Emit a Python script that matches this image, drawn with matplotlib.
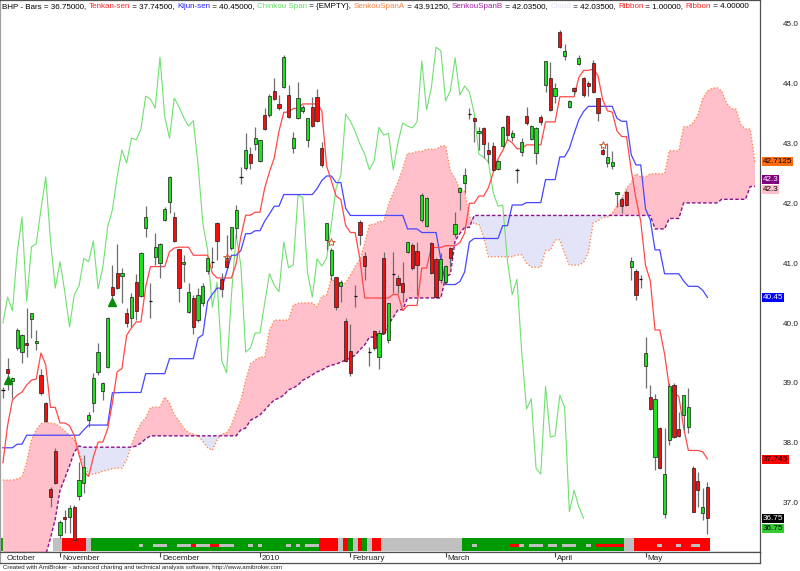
import numpy as np
import matplotlib
matplotlib.use("Agg")
import matplotlib.pyplot as plt
from matplotlib import transforms
from matplotlib.patches import Rectangle

plt.rcParams['font.family'] = ['Liberation Sans', 'DejaVu Sans']

### Data: BHP daily bars, bar 0 = mid Oct 2009 ... bar 148 = 20 May 2010
opens = [38.90, 39.25, 39.05, 39.60, 39.53, 39.68, 40.08, 39.68, 39.15, 38.68,
         37.24, 37.88, 36.47, 36.77, 36.77, 36.94, 37.12, 37.34, 38.40, 38.68,
         39.20, 38.88, 39.28, 40.62, 40.85, 40.80, 40.18, 40.10, 40.70, 40.47,
         41.61, 40.38, 41.12, 41.02, 41.74, 42.04, 41.79, 41.25, 41.00, 40.20,
         40.43, 40.07, 40.35, 40.89, 41.04, 41.69, 40.75, 41.10, 41.27, 41.61,
         42.46, 42.61, 42.84, 43.01, 42.73, 43.50, 43.50, 43.90, 43.68, 43.96,
         43.83, 42.94, 43.44, 43.56, 43.08, 43.63, 43.80, 42.94, 41.41, 40.82,
         40.79, 40.64, 40.05, 39.55, 40.47, 41.71, 41.14, 39.53, 39.88, 39.45,
         41.10, 39.73, 40.84, 40.77, 40.69, 41.20, 41.32, 41.22, 41.74, 41.64,
         41.36, 41.09, 40.73, 40.70, 41.27, 41.50, 42.21, 42.36, 43.51, 43.44,
         43.19, 43.28, 42.91, 42.98, 42.59, 42.98, 43.48, 43.13, 42.58, 42.88,
         43.48, 43.09, 42.86, 43.46, 44.00, 44.11, 43.81, 44.88, 44.48, 43.63,
         43.95, 44.35, 44.11, 44.03, 44.36, 43.78, 42.91, 42.69, 42.64, 42.18,
         42.09, 42.21, 40.95, 40.89, 40.75, 39.30, 38.78, 37.78, 38.26, 36.82,
         38.06, 38.98, 38.24, 38.48, 38.28, 37.59, 37.37, 36.84, 37.28]
highs = [38.95, 39.43, 39.12, 39.93, 39.84, 40.27, 40.18, 39.90, 39.25, 38.70,
         37.28, 37.93, 36.72, 36.89, 36.97, 36.97, 37.69, 37.81, 38.53, 39.18,
         39.68, 39.03, 40.12, 40.99, 41.34, 40.94, 40.27, 40.52, 40.84, 41.20,
         41.97, 40.69, 41.52, 41.35, 41.95, 42.47, 41.87, 41.26, 41.15, 40.69,
         40.49, 40.60, 40.69, 41.11, 41.29, 41.71, 40.85, 41.49, 41.63, 41.99,
         42.63, 43.19, 42.96, 43.29, 43.08, 43.61, 43.85, 44.11, 43.83, 44.50,
         43.99, 43.21, 44.05, 43.66, 43.45, 43.80, 43.93, 43.04, 41.69, 41.27,
         40.79, 40.74, 40.10, 40.00, 40.65, 41.74, 41.20, 39.62, 39.90, 39.90,
         41.20, 40.35, 41.20, 40.82, 41.04, 41.37, 41.35, 41.37, 42.19, 42.13,
         41.37, 41.10, 41.19, 40.99, 41.29, 41.87, 42.29, 42.61, 43.61, 43.46,
         43.29, 43.29, 43.04, 43.04, 42.74, 43.31, 43.50, 43.24, 42.61, 43.11,
         43.63, 43.33, 43.29, 43.50, 44.40, 44.38, 44.03, 44.92, 44.68, 43.75,
         43.96, 44.50, 44.13, 44.06, 44.41, 43.78, 42.94, 43.03, 42.89, 42.20,
         42.12, 42.24, 41.12, 40.92, 40.82, 39.78, 38.98, 38.83, 38.28, 38.26,
         39.01, 39.01, 38.53, 38.81, 38.93, 37.63, 37.52, 37.26, 37.36]
lows = [38.76, 38.90, 38.76, 39.57, 39.35, 39.45, 39.77, 39.57, 38.81, 38.36,
        36.94, 37.33, 36.42, 36.50, 36.50, 36.37, 37.06, 37.17, 38.28, 38.53,
        39.15, 38.73, 39.27, 40.35, 40.59, 40.35, 39.95, 39.95, 40.07, 40.45,
        41.45, 40.10, 40.99, 40.77, 41.72, 41.86, 41.37, 40.37, 40.70, 40.18,
        39.83, 40.03, 40.30, 40.84, 40.94, 41.07, 40.45, 40.94, 41.24, 41.44,
        42.34, 42.58, 42.59, 42.91, 42.71, 43.24, 43.46, 43.75, 43.58, 43.95,
        43.44, 42.86, 43.43, 43.53, 42.96, 43.29, 43.38, 42.63, 41.24, 40.74,
        40.23, 40.37, 39.37, 39.13, 40.28, 41.32, 40.74, 39.30, 39.57, 39.25,
        39.83, 39.68, 40.52, 40.52, 40.37, 41.19, 40.90, 40.49, 41.71, 41.62,
        40.84, 40.43, 40.69, 40.67, 40.95, 41.45, 41.91, 42.19, 43.43, 43.04,
        42.91, 42.78, 42.69, 42.56, 42.58, 42.96, 43.08, 43.06, 42.36, 42.81,
        43.33, 43.08, 42.68, 43.33, 43.88, 43.56, 43.70, 44.62, 44.41, 43.61,
        43.83, 44.33, 43.80, 43.81, 43.86, 43.39, 42.82, 42.63, 42.59, 41.96,
        41.86, 41.97, 40.74, 40.40, 40.60, 38.93, 38.56, 37.56, 37.58, 36.76,
        37.98, 38.09, 38.11, 38.23, 38.18, 36.85, 36.94, 36.72, 36.48]
closes = [38.90, 39.18, 39.10, 39.90, 39.82, 39.65, 40.18, 39.72, 38.85, 38.38,
          37.11, 37.34, 36.69, 36.74, 36.92, 36.39, 37.39, 37.61, 38.48, 39.10,
          39.53, 39.01, 40.10, 40.49, 40.60, 40.85, 40.02, 40.45, 40.22, 41.19,
          41.79, 40.38, 41.29, 41.34, 41.92, 42.46, 41.39, 40.60, 41.04, 40.54,
          39.95, 40.49, 40.64, 41.10, 41.04, 41.39, 40.59, 40.95, 41.62, 41.91,
          42.46, 42.91, 42.69, 43.11, 43.08, 43.26, 43.81, 43.76, 43.61, 44.46,
          43.46, 43.11, 43.78, 43.63, 43.45, 43.31, 43.40, 42.66, 41.69, 41.24,
          40.28, 40.70, 39.38, 39.18, 40.47, 41.49, 40.97, 39.53, 39.60, 39.85,
          39.85, 40.35, 40.84, 40.65, 40.54, 41.37, 40.94, 40.99, 42.16, 42.11,
          40.85, 40.45, 41.09, 40.97, 41.10, 41.67, 42.28, 42.49, 43.51, 43.39,
          43.22, 43.01, 42.84, 42.58, 42.73, 43.29, 43.16, 43.19, 42.58, 43.04,
          43.36, 43.31, 43.28, 43.38, 44.40, 43.58, 43.95, 44.63, 44.57, 43.73,
          43.90, 44.45, 43.83, 43.98, 43.88, 43.53, 42.84, 42.79, 42.71, 42.20,
          41.97, 41.99, 41.05, 40.49, 40.75, 39.52, 38.58, 38.75, 37.59, 37.49,
          38.96, 38.11, 38.13, 38.81, 38.61, 36.86, 37.22, 36.94, 36.75]

# indicator values for the bars where the visible history is too short
tenkan_head = [37.68, 38.31, 38.73, 38.81, 38.86, 38.98, 39.06, 39.08]          # bars 0-7
kijun_head = [37.93, 37.93, 37.93, 37.99, 37.99, 38.14, 38.14, 38.14, 38.14, 38.14,
              38.14, 38.14, 38.14, 38.14, 38.14, 38.14, 38.14, 38.23, 38.31, 38.31,
              38.31, 38.31, 38.31, 38.85, 38.85]                                # bars 0-24
span_a_head = [37.39, 37.39, 37.39, 37.41, 37.44, 37.69, 38.06, 38.23, 38.33, 38.36,
               38.34, 38.33, 38.28, 38.21, 38.14, 38.06, 37.86, 37.64, 37.49, 37.49,
               37.51, 37.54, 37.56, 37.58, 37.59, 37.59, 37.73, 37.98, 38.18, 38.34,
               38.43, 38.60, 38.61, 38.61, 38.78, 38.68, 38.48, 38.38, 38.26, 38.18,
               38.16, 38.13, 38.04, 37.93, 37.89, 38.06, 38.16, 38.18, 38.31, 38.53,
               38.73]                                                            # bars 0-50
span_b_head = [35.90, 35.90, 35.90, 35.90, 35.90, 35.90, 35.90, 35.90, 35.90, 36.14,
               36.42, 36.74, 37.22, 37.42, 37.63, 37.86, 37.96, 37.94, 37.94, 37.94,
               37.94, 37.94, 37.94, 37.94, 37.94, 37.94, 37.94, 37.94, 37.96, 38.01,
               38.08, 38.13, 38.13, 38.13, 38.13, 38.13, 38.13, 38.13, 38.13, 38.13,
               38.13, 38.13, 38.13, 38.13, 38.13, 38.13, 38.13, 38.13, 38.13, 38.13,
               38.23, 38.26, 38.39, 38.43, 38.48, 38.56, 38.65, 38.73, 38.76, 38.81,
               38.90, 38.93, 38.98, 39.06, 39.10, 39.15, 39.20, 39.23, 39.28, 39.31,
               39.33, 39.36, 39.40, 39.43, 39.48, 39.57, 39.65]                  # bars 0-76
cloud_bars = 159   # the cloud runs 10 bars past the last price bar

month_names = ['October', 'November', 'December', '2010', 'February', 'March', 'April', 'May']
month_bars = [0.4, 12, 33, 54, 73, 93, 116, 135]

# ribbons as (code, number of bars): g green, r red, s grey, . nothing
ribbon_main = [('g', 1), ('.', 10), ('s', 2), ('r', 5), ('s', 1), ('g', 48), ('r', 4), ('s', 1),
               ('r', 1), ('g', 1), ('s', 1), ('r', 1), ('g', 1), ('s', 1), ('r', 2), ('s', 17),
               ('g', 34), ('s', 2), ('r', 16)]
ribbon_inner = [('.', 29), ('s', 1), ('.', 2), ('s', 3), ('.', 2), ('s', 3), ('r', 1), ('s', 3),
                ('r', 2), ('s', 3), ('.', 3), ('s', 1), ('.', 1), ('s', 1), ('.', 5), ('s', 1),
                ('.', 1), ('s', 1), ('.', 1), ('s', 3), ('.', 32), ('s', 1), ('.', 7), ('r', 2),
                ('s', 1), ('.', 1), ('s', 3), ('.', 1), ('s', 2), ('.', 1), ('s', 3), ('.', 2),
                ('s', 1), ('.', 1), ('r', 6), ('.', 7), ('s', 1), ('.', 3), ('s', 1), ('.', 2),
                ('s', 2), ('.', 2)]

buy_bars = [1, 23]
buy_level = [39.07, 40.36]
star_bars = [47, 69, 126]
star_level = [41.12, 41.37, 42.99]

price_ticks = [37.0, 38.0, 39.0, 40.0, 41.0, 42.0, 43.0, 44.0, 45.0]
# (text, value, background, text colour, shift in px)
last_labels = [('42.7125', 42.7125, '#ff6a10', 'black', 0),
               ('42.3', 42.3, '#800080', 'white', 7),
               ('42.3', 42.3, '#ffc0cb', 'black', -3),
               ('40.45', 40.45, '#0000ff', 'white', 0),
               ('37.745', 37.745, '#ff0000', 'black', -1),
               ('36.75', 36.75, '#000000', 'white', 0),
               ('36.75', 36.75, '#33cc33', 'black', -10)]

title_parts = [('BHP - Bars = 36.75000, ', 'black'), ('Tenkan-sen', '#ff2020'),
               (' = 37.74500, ', 'black'), ('Kijun-sen', '#2020ff'), (' = 40.45000, ', 'black'),
               ('Chinkou Span', '#66dd66'), (' = {EMPTY}, ', 'black'), ('SenkouSpanA', '#ff8040'),
               (' = 43.91250, ', 'black'), ('SenkouSpanB', '#a020a0'), (' = 42.03500, ', 'black'),
               ('Cloud', '#e0e0fa'), (' = 42.03500, ', 'black'), ('Ribbon', '#ff2020'),
               (' = 1.00000, ', 'black'), ('Ribbon', '#ff2020'), (' = 4.00000', 'black')]

### Ichimoku lines
o = np.array(opens); h = np.array(highs); l = np.array(lows); c = np.array(closes)
n = len(c)
idx = np.arange(n)

def mid(i, length):
    return (h[i - length + 1:i + 1].max() + l[i - length + 1:i + 1].min()) / 2

tenkan = np.array(tenkan_head + [mid(i, 9) for i in range(len(tenkan_head), n)])
kijun = np.array(kijun_head + [mid(i, 26) for i in range(len(kijun_head), n)])
span_a = np.array(span_a_head + [(tenkan[i - 26] + kijun[i - 26]) / 2
                                 for i in range(len(span_a_head), cloud_bars)])
span_b = np.array(span_b_head + [mid(i - 26, 52) for i in range(len(span_b_head), cloud_bars)])
chinkou = c[26:]
cx = np.arange(cloud_bars)

### Figure
W, H = 800, 571
fig = plt.figure(figsize=(8, 5.71), dpi=100)
ax = fig.add_axes([0, 19 / H, 760 / W, 552 / H])
ax.set_xlim(-0.61, 159.05)
ax.set_ylim(45 - 527 / 59.8, 45 + 25 / 59.8)
ax.set_xticks([]); ax.set_yticks([])
for s in ax.spines.values():
    s.set_color('#505050'); s.set_linewidth(0.9)
ax.spines['left'].set_color('#a0a0a0')

trans = transforms.blended_transform_factory(ax.transData, ax.transAxes)
ribbon_colors = {'g': '#009a00', 'r': '#ff0000', 's': '#c0c0c0'}

def draw_ribbon(runs, y0, hgt, z):
    i = 0
    for code, cnt in runs:
        if code in ribbon_colors:
            ax.add_patch(Rectangle((i - 0.5, y0), cnt, hgt, transform=trans,
                                   facecolor=ribbon_colors[code], lw=0, zorder=z))
        i += cnt

draw_ribbon(ribbon_main, 0.002, 0.0235, 1)
draw_ribbon(ribbon_inner, 0.0085, 0.0065, 1.1)

# cloud
ax.fill_between(cx, span_a, span_b, where=span_a >= span_b, interpolate=True,
                color='#ffc0cb', lw=0, zorder=1.5)
ax.fill_between(cx, span_a, span_b, where=span_a < span_b, interpolate=True,
                color='#e4e4f8', lw=0, zorder=1.5)
ax.plot(cx, span_a, color='#ff8c50', lw=1.0, ls=(0, (1, 1.4)), zorder=2)
ax.plot(cx, span_b, color='#8b108b', lw=1.0, ls=(0, (2.5, 1.5)), zorder=2)

ax.plot(idx[:len(chinkou)], chinkou, color='#70e070', lw=0.8, zorder=2.1)
ax.plot(idx, kijun, color='#4646ff', lw=0.9, zorder=2.2)
ax.plot(idx, tenkan, color='#ff4848', lw=0.9, zorder=2.3)

# candles
up = c >= o
ax.vlines(idx, l, h, color='#6e6e6e', lw=0.9, zorder=3)
bw = 0.68
flat = np.abs(c - o) < 0.005
body_lo = np.minimum(o, c)
body_h = np.abs(c - o)
ax.bar(idx[~flat], body_h[~flat], bottom=body_lo[~flat], width=bw,
       color=np.where(up, '#1fe01f', '#f01010')[~flat], edgecolor='#1a1a1a',
       linewidth=0.5, zorder=3.2)
ax.hlines(c[flat], idx[flat] - bw / 2, idx[flat] + bw / 2, color='#111111', lw=0.9, zorder=3.2)

# signals
ax.plot(buy_bars, buy_level, ls='none', marker='^', ms=6, color='#0a8a0a', zorder=4)
ax.plot(star_bars, star_level, ls='none', marker='*', ms=6, mfc='none', mec='#d06030',
        mew=0.7, zorder=4)

# right hand price scale
fy = transforms.blended_transform_factory(fig.transFigure, ax.transData)
for v in price_ticks:
    fig.text(783 / W, v, f'{v:.1f}', transform=fy, fontsize=5.9, color='#202020',
             va='center', ha='left')
for txt, v, bg, fg, dy in last_labels:
    t = fy + transforms.ScaledTranslation(0, dy / 100, fig.dpi_scale_trans)
    fig.text(762.5 / W, v, txt, transform=t, fontsize=5.9, color=fg, va='center', ha='left',
             bbox=dict(boxstyle='square,pad=0.12', facecolor=bg, edgecolor='none'))

# date strip
ax2 = fig.add_axes([0, 8 / H, 760 / W, 11 / H])
ax2.set_xlim(ax.get_xlim()); ax2.set_ylim(0, 1)
ax2.set_xticks([]); ax2.set_yticks([])
for s in ax2.spines.values():
    s.set_color('#505050'); s.set_linewidth(0.9)
ax2.spines['left'].set_color('#a0a0a0')
for name, pos in zip(month_names, month_bars):
    if pos >= 1:
        ax2.vlines(pos, 0.55, 1.0, color='#404040', lw=0.8)
    ax2.text(pos, 0.45, name, fontsize=5.9, color='#202020', va='center', ha='left',
             transform=ax2.transData + transforms.ScaledTranslation(2 / 100, 0, fig.dpi_scale_trans))

fig.text(3 / W, 1 - 567 / H, 'Created with AmiBroker - advanced charting and technical analysis '
         'software. http://www.amibroker.com', fontsize=4.4, color='#202020', va='center', ha='left')

# coloured title
fig.canvas.draw()
rend = fig.canvas.get_renderer()
x = 2.5
for txt, col in title_parts:
    tt = fig.text(x / W, 1 - 7 / H, txt, fontsize=5.72, color=col, va='center', ha='left')
    x = tt.get_window_extent(renderer=rend).x1

fig.savefig('out.png', dpi=100)
